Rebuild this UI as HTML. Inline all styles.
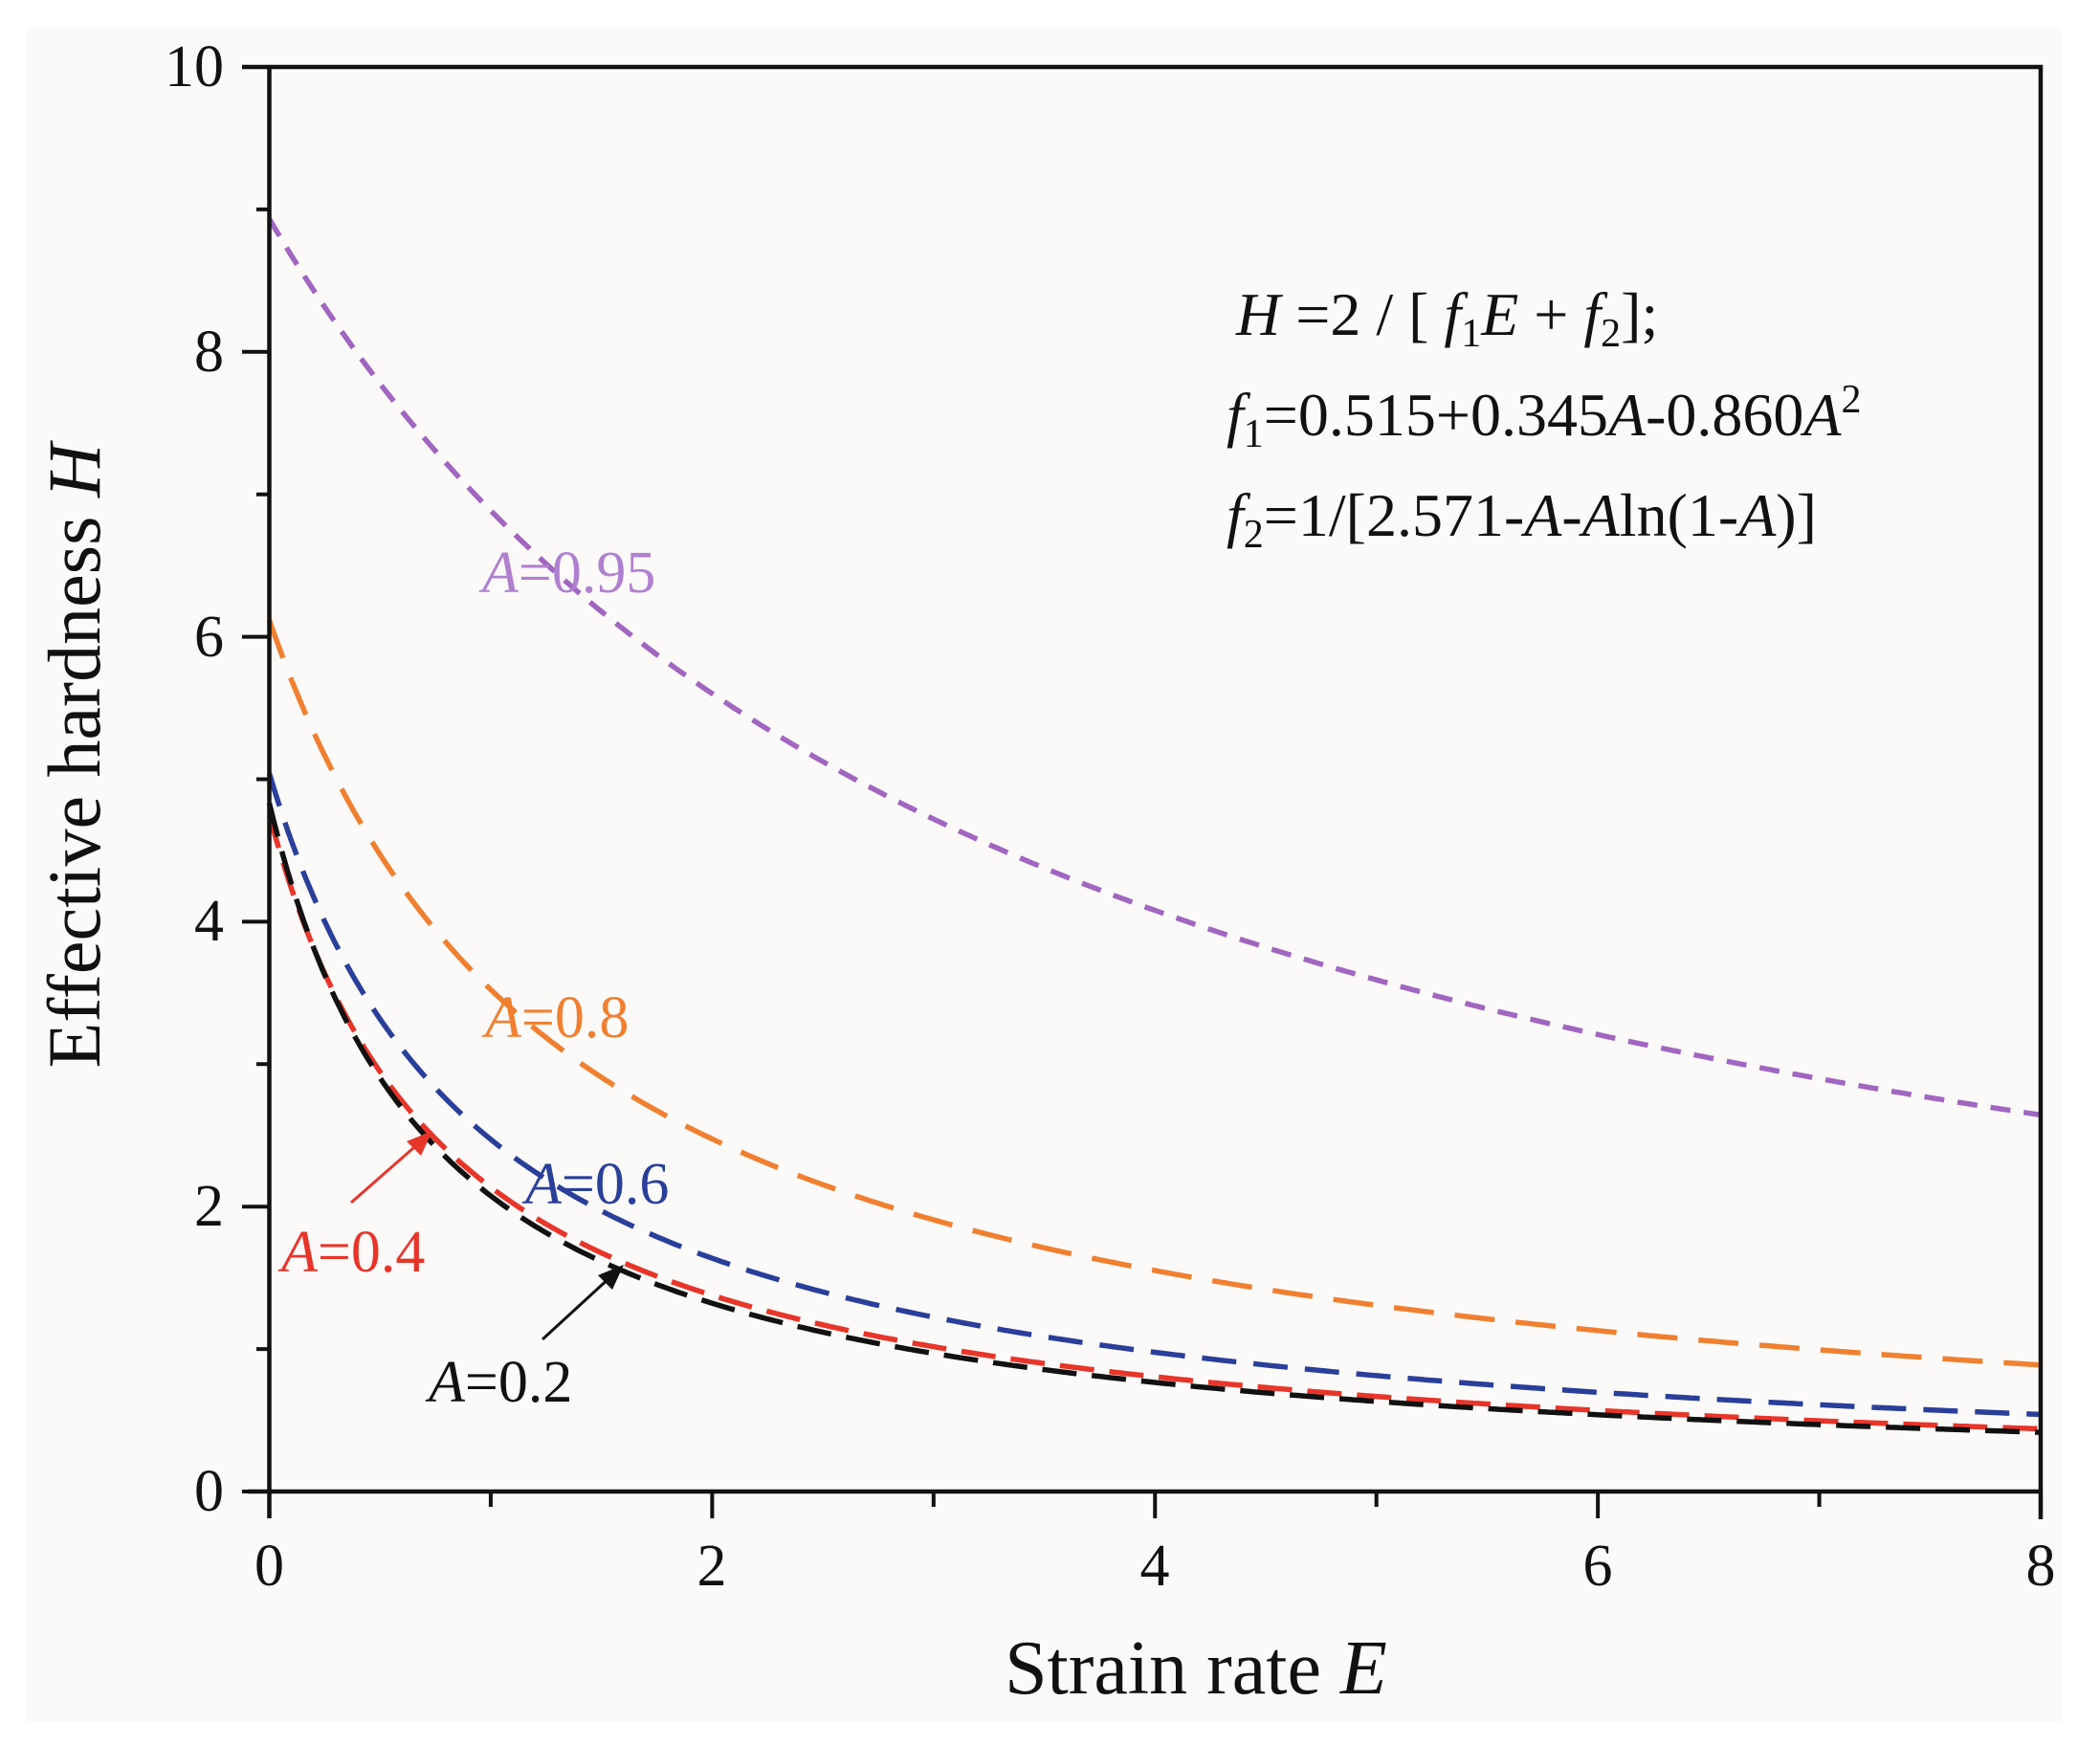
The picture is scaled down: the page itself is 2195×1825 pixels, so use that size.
<!DOCTYPE html>
<html><head><meta charset="utf-8"><style>
html,body{margin:0;padding:0;background:#fff;}
svg{display:block;}
text{font-family:"Liberation Serif",serif;}
</style></head><body>
<svg id="s" width="2195" height="1825" viewBox="0 0 2195 1825" xmlns="http://www.w3.org/2000/svg">
<rect x="28" y="28" width="2127" height="1772" fill="#fbfaf9"/>
<g id="curves" fill="none" stroke-width="5.5"></g>
<g stroke="#111" stroke-width="4.5" fill="none">
<path d="M253,70 H2133 V1588 M281.5,70 V1587 M259,1559 H2133"/>
</g>
<g id="ticks" stroke="#111" stroke-width="4"></g>
<g font-size="62" fill="#111" text-anchor="end" dominant-baseline="central">
<text x="234" y="70">10</text><text x="234" y="368">8</text><text x="234" y="666">6</text>
<text x="234" y="963">4</text><text x="234" y="1261">2</text><text x="234" y="1559">0</text>
</g>
<g font-size="62" fill="#111" text-anchor="middle" dominant-baseline="central">
<text x="281.5" y="1637">0</text><text x="744" y="1637">2</text><text x="1207" y="1637">4</text>
<text x="1670" y="1637">6</text><text x="2133" y="1637">8</text>
</g>
<text x="1250" y="1770" font-size="80" text-anchor="middle" fill="#111">Strain rate <tspan font-style="italic">E</tspan></text>
<text transform="translate(104,790) rotate(-90)" font-size="78" text-anchor="middle" fill="#111">Effective hardness <tspan font-style="italic">H</tspan></text>
<g font-size="64" fill="#111">
<text x="1292" y="350"><tspan font-style="italic">H</tspan> =2 / [ <tspan font-style="italic">f</tspan><tspan font-size="42" dy="12">1</tspan><tspan font-style="italic" dy="-12">E</tspan> + <tspan font-style="italic">f</tspan><tspan font-size="42" dy="12">2</tspan><tspan dy="-12">];</tspan></text>
<text x="1282" y="455"><tspan font-style="italic">f</tspan><tspan font-size="42" dy="12">1</tspan><tspan dy="-12">=0.515+0.345</tspan><tspan font-style="italic">A</tspan>-0.860<tspan font-style="italic">A</tspan><tspan font-size="42" dy="-24">2</tspan></text>
<text x="1282" y="560"><tspan font-style="italic">f</tspan><tspan font-size="42" dy="12">2</tspan><tspan dy="-12">=1/[2.571-</tspan><tspan font-style="italic">A</tspan>-<tspan font-style="italic">A</tspan>ln(1-<tspan font-style="italic">A</tspan>)]</text>
</g>
<g font-size="62" dominant-baseline="central">
<text x="504" y="599" fill="#b080d0"><tspan font-style="italic">A</tspan>=0.95</text>
<text x="507" y="1064" fill="#f08030"><tspan font-style="italic">A</tspan>=0.8</text>
<text x="549" y="1238" fill="#2a3f9a"><tspan font-style="italic">A</tspan>=0.6</text>
<text x="294" y="1309" fill="#e8352a"><tspan font-style="italic">A</tspan>=0.4</text>
<text x="448" y="1445" fill="#111"><tspan font-style="italic">A</tspan>=0.2</text>
</g>
<g stroke-width="3">
<line x1="367" y1="1257" x2="440" y2="1193" stroke="#e8352a"/>
<polygon points="452,1182 425,1193 440,1208" fill="#e8352a"/>
<line x1="567" y1="1400" x2="640" y2="1333" stroke="#111"/>
<polygon points="652,1322 625,1333 640,1348" fill="#111"/>
</g>
</svg>
<script>
(function(){
var X0=281.5,SX=231.44,Y0=1559,SY=148.9,ns="http://www.w3.org/2000/svg";
function px(e){return X0+SX*e} function py(h){return Y0-SY*h}
var series=[[0.95,"#a066c0","21 14"],[0.8,"#f08030","42 22"],[0.6,"#2a3f9a","36 18"],[0.4,"#e8352a","36 16"],[0.2,"#111111","36 16"]];
var g=document.getElementById("curves");
series.forEach(function(s){
 var A=s[0],f1=0.515+0.345*A-0.860*A*A,f2=1/(2.571-A-A*Math.log(1-A));
 var d="";for(var i=0;i<=400;i++){var e=8*i/400,h=2/(f1*e+f2);d+=(i?"L":"M")+px(e).toFixed(1)+","+py(h).toFixed(1);}
 var p=document.createElementNS(ns,"path");p.setAttribute("d",d);p.setAttribute("stroke",s[1]);p.setAttribute("stroke-dasharray",s[2]);g.appendChild(p);
});
var t=document.getElementById("ticks"),d="";
for(var i=0;i<=10;i++){var y=py(i);d+="M"+(i%2?268:253)+","+y+"H281.5";}
for(var j=0;j<=8;j++){var x=px(j);d+="M"+x+",1559V"+(j%2?1575:1587);}
var p=document.createElementNS(ns,"path");p.setAttribute("d",d);t.appendChild(p);
})();
</script>
</body></html>
